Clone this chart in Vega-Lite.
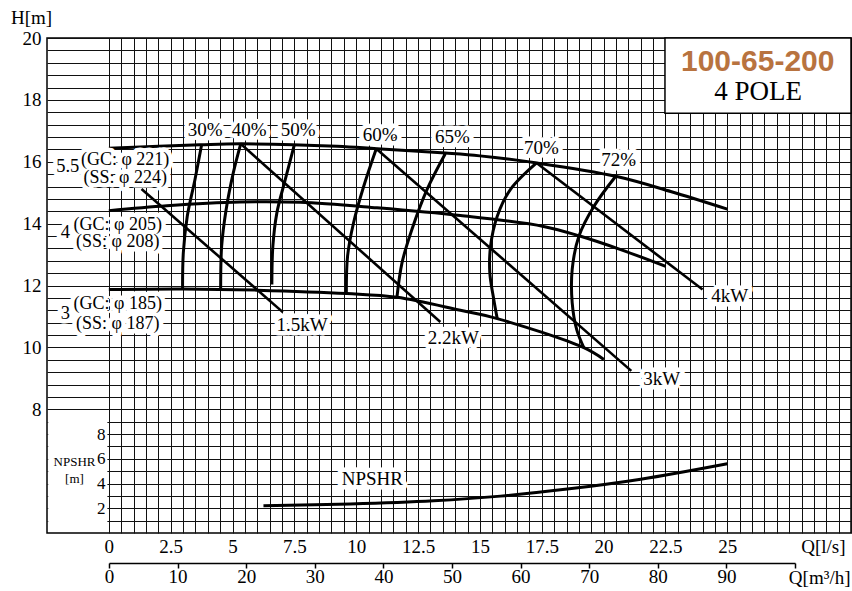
{
  "$schema": "https://vega.github.io/schema/vega-lite/v6.json",
  "width": 804,
  "height": 495,
  "autosize": {"type": "none"},
  "padding": {"left": 47, "top": 38, "right": 1, "bottom": 58},
  "background": "white",
  "config": {
    "view": {"stroke": "black", "strokeWidth": 1.5},
    "font": "Liberation Serif",
    "axis": {"labelFont": "Liberation Serif", "titleFont": "Liberation Serif", "labelColor": "black", "titleColor": "black", "titleFontWeight": "normal", "labelFlush": false, "labelOverlap": false, "labelBound": false}
  },
  "datasets": {
    "head": [
      {"s": "a", "q": 0, "h": 16.44}, {"s": "a", "q": 3.68, "h": 16.55}, {"s": "a", "q": 5.37, "h": 16.58}, {"s": "a", "q": 9.22, "h": 16.5}, {"s": "a", "q": 10.84, "h": 16.42}, {"s": "a", "q": 13.6, "h": 16.28}, {"s": "a", "q": 15.0, "h": 16.19}, {"s": "a", "q": 17.31, "h": 15.96}, {"s": "a", "q": 20.49, "h": 15.53}, {"s": "a", "q": 22.71, "h": 15.04}, {"s": "a", "q": 25.0, "h": 14.47},
      {"s": "b", "q": 0, "h": 14.42}, {"s": "b", "q": 2.34, "h": 14.58}, {"s": "b", "q": 5.3, "h": 14.7}, {"s": "b", "q": 7.73, "h": 14.69}, {"s": "b", "q": 10.84, "h": 14.51}, {"s": "b", "q": 14.21, "h": 14.26}, {"s": "b", "q": 17.57, "h": 13.91}, {"s": "b", "q": 19.07, "h": 13.59}, {"s": "b", "q": 20.69, "h": 13.16}, {"s": "b", "q": 22.51, "h": 12.62},
      {"s": "c", "q": 0, "h": 11.87}, {"s": "c", "q": 3.01, "h": 11.89}, {"s": "c", "q": 5.98, "h": 11.85}, {"s": "c", "q": 9.62, "h": 11.74}, {"s": "c", "q": 11.65, "h": 11.62}, {"s": "c", "q": 14.21, "h": 11.2}, {"s": "c", "q": 15.7, "h": 10.93}, {"s": "c", "q": 19.2, "h": 9.99}, {"s": "c", "q": 20.01, "h": 9.61}
    ],
    "eff": [
      {"s": "30", "q": 3.75, "h": 16.55}, {"s": "30", "q": 3.48, "h": 15.42}, {"s": "30", "q": 3.17, "h": 14.24}, {"s": "30", "q": 3.01, "h": 13.05}, {"s": "30", "q": 2.98, "h": 11.9},
      {"s": "40", "q": 5.33, "h": 16.58}, {"s": "40", "q": 5.03, "h": 15.64}, {"s": "40", "q": 4.74, "h": 14.45}, {"s": "40", "q": 4.56, "h": 13.27}, {"s": "40", "q": 4.52, "h": 11.9},
      {"s": "50", "q": 7.5, "h": 16.55}, {"s": "50", "q": 7.13, "h": 15.42}, {"s": "50", "q": 6.79, "h": 14.34}, {"s": "50", "q": 6.63, "h": 13.27}, {"s": "50", "q": 6.59, "h": 12.03},
      {"s": "60", "q": 10.81, "h": 16.42}, {"s": "60", "q": 10.3, "h": 15.2}, {"s": "60", "q": 9.89, "h": 14.02}, {"s": "60", "q": 9.65, "h": 12.95}, {"s": "60", "q": 9.6, "h": 11.76},
      {"s": "65", "q": 13.6, "h": 16.26}, {"s": "65", "q": 12.86, "h": 15.1}, {"s": "65", "q": 12.25, "h": 13.81}, {"s": "65", "q": 11.85, "h": 12.73}, {"s": "65", "q": 11.65, "h": 11.65},
      {"s": "70", "q": 17.29, "h": 15.96}, {"s": "70", "q": 16.23, "h": 15.1}, {"s": "70", "q": 15.7, "h": 14.24}, {"s": "70", "q": 15.43, "h": 13.27}, {"s": "70", "q": 15.4, "h": 12.41}, {"s": "70", "q": 15.56, "h": 11.55}, {"s": "70", "q": 15.7, "h": 10.93},
      {"s": "72", "q": 20.49, "h": 15.53}, {"s": "72", "q": 19.61, "h": 14.56}, {"s": "72", "q": 19.0, "h": 13.59}, {"s": "72", "q": 18.73, "h": 12.52}, {"s": "72", "q": 18.73, "h": 11.44}, {"s": "72", "q": 18.91, "h": 10.58}, {"s": "72", "q": 19.2, "h": 9.99}
    ],
    "power": [
      {"s": "1.5", "q": 1.32, "h": 15.12}, {"s": "1.5", "q": 7.03, "h": 11.14},
      {"s": "2.2", "q": 5.33, "h": 16.58}, {"s": "2.2", "q": 13.4, "h": 10.82},
      {"s": "3", "q": 10.81, "h": 16.42}, {"s": "3", "q": 21.12, "h": 9.24},
      {"s": "4", "q": 17.29, "h": 15.96}, {"s": "4", "q": 24.0, "h": 11.87}
    ],
    "npshr": [
      {"q": 6.25, "n": 2.2}, {"q": 9.76, "n": 2.34}, {"q": 13.13, "n": 2.6}, {"q": 15.83, "n": 2.98}, {"q": 18.53, "n": 3.55}, {"q": 21.5, "n": 4.35}, {"q": 25.0, "n": 5.6}
    ],
    "lbl": [
      {"t": "30%", "q": 3.89, "h": 17.03, "g": "pct"},
      {"t": "40%", "q": 5.67, "h": 17.03, "g": "pct"},
      {"t": "50%", "q": 7.65, "h": 17.03, "g": "pct"},
      {"t": "60%", "q": 10.97, "h": 16.87, "g": "pct"},
      {"t": "65%", "q": 13.89, "h": 16.79, "g": "pct"},
      {"t": "70%", "q": 17.49, "h": 16.45, "g": "pct"},
      {"t": "72%", "q": 20.61, "h": 16.06, "g": "pct"},
      {"t": "1.5kW", "q": 7.81, "h": 10.71, "g": "pct"},
      {"t": "2.2kW", "q": 13.93, "h": 10.29, "g": "pct"},
      {"t": "3kW", "q": 22.35, "h": 8.97, "g": "pct"},
      {"t": "4kW", "q": 25.1, "h": 11.65, "g": "pct"},
      {"t": "5.5", "q": -1.66, "h": 15.87, "g": "num"},
      {"t": "4", "q": -1.76, "h": 13.74, "g": "num"},
      {"t": "3", "q": -1.76, "h": 11.1, "g": "num"},
      {"t": "(GC: φ 221)", "q": 0.66, "h": 16.06, "g": "dia"},
      {"t": "(SS: φ 224)", "q": 0.66, "h": 15.48, "g": "dia"},
      {"t": "(GC: φ 205)", "q": 0.36, "h": 13.97, "g": "dia"},
      {"t": "(SS: φ 208)", "q": 0.36, "h": 13.42, "g": "dia"},
      {"t": "(GC: φ 185)", "q": 0.36, "h": 11.39, "g": "dia"},
      {"t": "(SS: φ 187)", "q": 0.36, "h": 10.74, "g": "dia"}
    ],
    "nlbl": [{"t": "NPSHR", "q": 10.65, "n": 4.36}]
  },
  "resolve": {"scale": {"x": "independent", "y": "independent"}, "axis": {"x": "independent", "y": "independent"}},
  "layer": [
    {
      "data": {"name": "head"},
      "mark": {"type": "line", "color": "black", "strokeWidth": 3, "interpolate": "catmull-rom"},
      "encoding": {
        "x": {"field": "q", "type": "quantitative", "scale": {"domain": [-2.5, 30], "nice": false, "zero": false},
          "axis": {"orient": "bottom", "values": [0,0.5,1,1.5,2,2.5,3,3.5,4,4.5,5,5.5,6,6.5,7,7.5,8,8.5,9,9.5,10,10.5,11,11.5,12,12.5,13,13.5,14,14.5,15,15.5,16,16.5,17,17.5,18,18.5,19,19.5,20,20.5,21,21.5,22,22.5,23,23.5,24,24.5,25,25.5,26,26.5,27,27.5,28,28.5,29,29.5,30],
            "grid": true, "gridColor": "#111111", "gridWidth": 1, "gridOpacity": 1, "domain": false, "ticks": false, "tickSize": 0,
            "format": "~g", "labelExpr": "datum.value % 2.5 == 0 && datum.value <= 25 ? datum.label : ''",
            "labelFontSize": 19, "labelPadding": 13, "labelBaseline": "middle",
            "title": "Q[l/s]", "titleAngle": 0, "titleX": 798, "titleY": 13, "titleAlign": "right", "titleBaseline": "middle", "titleFontSize": 19}},
        "y": {"field": "h", "type": "quantitative", "scale": {"domain": [4, 20], "nice": false, "zero": false},
          "axis": {"orient": "left", "values": [8,8.4,8.8,9.2,9.6,10,10.4,10.8,11.2,11.6,12,12.4,12.8,13.2,13.6,14,14.4,14.8,15.2,15.6,16,16.4,16.8,17.2,17.6,18,18.4,18.8,19.2,19.6,20],
            "grid": true, "gridColor": "#111111", "gridWidth": 1, "gridOpacity": 1, "domain": false, "ticks": false, "tickSize": 0,
            "format": "~g", "labelExpr": "datum.value % 2 == 0 ? datum.label : ''",
            "labelFontSize": 19, "labelPadding": 6,
            "title": "H[m]", "titleAngle": 0, "titleX": -16, "titleY": -21, "titleAlign": "center", "titleBaseline": "middle", "titleFontSize": 19}},
        "detail": {"field": "s"}
      }
    },
    {
      "data": {"values": [{}]},
      "mark": {"type": "rect", "fill": "white", "strokeWidth": 0},
      "encoding": {
        "x": {"datum": -2.45, "type": "quantitative", "scale": {"domain": [-2.5, 30], "nice": false, "zero": false}, "axis": null},
        "x2": {"datum": -0.06},
        "y": {"datum": 0.08, "type": "quantitative", "scale": {"domain": [0, 40], "nice": false, "zero": false}, "axis": null},
        "y2": {"datum": 9.93}
      }
    },
    {
      "data": {"name": "npshr"},
      "mark": {"type": "line", "color": "black", "strokeWidth": 3, "interpolate": "catmull-rom"},
      "encoding": {
        "x": {"field": "q", "type": "quantitative", "scale": {"domain": [-2.5, 30], "nice": false, "zero": false}, "axis": null},
        "y": {"field": "n", "type": "quantitative", "scale": {"domain": [0, 40], "nice": false, "zero": false},
          "axis": {"orient": "left", "offset": -62, "values": [1,2,3,4,5,6,7,8,9], "grid": true, "gridColor": "#111111", "gridWidth": 1, "gridOpacity": 1, "labels": false, "ticks": false, "domain": false, "title": null}}
      }
    },
    {
      "data": {"name": "eff"},
      "mark": {"type": "line", "color": "black", "strokeWidth": 3, "interpolate": "catmull-rom"},
      "encoding": {
        "x": {"field": "q", "type": "quantitative", "scale": {"domain": [-2.5, 30], "nice": false, "zero": false}, "axis": null},
        "y": {"field": "h", "type": "quantitative", "scale": {"domain": [4, 20], "nice": false, "zero": false}, "axis": null},
        "detail": {"field": "s"},
        "order": {"value": null}
      }
    },
    {
      "data": {"name": "power"},
      "mark": {"type": "line", "color": "black", "strokeWidth": 2.6},
      "encoding": {
        "x": {"field": "q", "type": "quantitative", "scale": {"domain": [-2.5, 30], "nice": false, "zero": false}, "axis": null},
        "y": {"field": "h", "type": "quantitative", "scale": {"domain": [4, 20], "nice": false, "zero": false}, "axis": null},
        "detail": {"field": "s"}
      }
    },
    {
      "data": {"values": [{}]},
      "mark": {"type": "rect", "fill": "white", "stroke": "black", "strokeWidth": 1.5},
      "encoding": {
        "x": {"datum": 22.48, "type": "quantitative", "scale": {"domain": [-2.5, 30], "nice": false, "zero": false}, "axis": null},
        "x2": {"datum": 30},
        "y": {"datum": 17.57, "type": "quantitative", "scale": {"domain": [4, 20], "nice": false, "zero": false}, "axis": null},
        "y2": {"datum": 20}
      }
    },
    {
      "data": {"name": "lbl"},
      "mark": {"type": "text", "fill": "white", "stroke": "white", "strokeWidth": 9, "strokeJoin": "round", "font": "Liberation Serif", "align": "center", "baseline": "middle"},
      "encoding": {
        "x": {"field": "q", "type": "quantitative", "scale": {"domain": [-2.5, 30], "nice": false, "zero": false}, "axis": null},
        "y": {"field": "h", "type": "quantitative", "scale": {"domain": [4, 20], "nice": false, "zero": false}, "axis": null},
        "text": {"field": "t"},
        "size": {"field": "g", "type": "nominal", "scale": {"domain": ["pct", "num", "dia"], "range": [19, 18, 16.5]}, "legend": null}
      }
    },
    {
      "data": {"name": "lbl"},
      "mark": {"type": "text", "fill": "black", "font": "Liberation Serif", "align": "center", "baseline": "middle"},
      "encoding": {
        "x": {"field": "q", "type": "quantitative", "scale": {"domain": [-2.5, 30], "nice": false, "zero": false}, "axis": null},
        "y": {"field": "h", "type": "quantitative", "scale": {"domain": [4, 20], "nice": false, "zero": false}, "axis": null},
        "text": {"field": "t"},
        "size": {"field": "g", "type": "nominal", "scale": {"domain": ["pct", "num", "dia"], "range": [19, 18, 16.5]}, "legend": null}
      }
    },
    {
      "data": {"name": "nlbl"},
      "mark": {"type": "text", "fill": "white", "stroke": "white", "strokeWidth": 9, "strokeJoin": "round", "font": "Liberation Serif", "fontSize": 19, "align": "center", "baseline": "middle"},
      "encoding": {
        "x": {"field": "q", "type": "quantitative", "scale": {"domain": [-2.5, 30], "nice": false, "zero": false}, "axis": null},
        "y": {"field": "n", "type": "quantitative", "scale": {"domain": [0, 40], "nice": false, "zero": false},
          "axis": {"orient": "left", "offset": -62, "values": [2, 4, 6, 8], "grid": false, "domain": false, "ticks": false, "tickSize": 0, "labelPadding": 4, "labelFontSize": 17, "zindex": 1,
            "title": ["NPSHR", "[m]"], "titleAngle": 0, "titleX": -35, "titleY": 427, "titleAlign": "center", "titleBaseline": "alphabetic", "titleFontSize": 13, "titleLineHeight": 17}},
        "text": {"field": "t"}
      }
    },
    {
      "data": {"name": "nlbl"},
      "mark": {"type": "text", "fill": "black", "font": "Liberation Serif", "fontSize": 19, "align": "center", "baseline": "middle"},
      "encoding": {
        "x": {"field": "q", "type": "quantitative", "scale": {"domain": [-2.5, 30], "nice": false, "zero": false}, "axis": null},
        "y": {"field": "n", "type": "quantitative", "scale": {"domain": [0, 40], "nice": false, "zero": false}, "axis": null},
        "text": {"field": "t"}
      }
    },
    {
      "data": {"values": [{"t": "100-65-200", "q": 26.23, "h": 19.23}]},
      "mark": {"type": "text", "fill": "#b8733f", "font": "Liberation Sans", "fontWeight": "bold", "fontSize": 30, "align": "center", "baseline": "middle"},
      "encoding": {
        "x": {"field": "q", "type": "quantitative", "scale": {"domain": [-2.5, 30], "nice": false, "zero": false}, "axis": null},
        "y": {"field": "h", "type": "quantitative", "scale": {"domain": [4, 20], "nice": false, "zero": false}, "axis": null},
        "text": {"field": "t"}
      }
    },
    {
      "data": {"values": [{"t": "4 POLE", "q": 26.25, "h": 18.26}]},
      "mark": {"type": "text", "fill": "black", "font": "Liberation Sans Narrow", "fontSize": 27, "align": "center", "baseline": "middle"},
      "encoding": {
        "x": {"field": "q", "type": "quantitative", "scale": {"domain": [-2.5, 30], "nice": false, "zero": false}, "axis": null},
        "y": {"field": "h", "type": "quantitative", "scale": {"domain": [4, 20], "nice": false, "zero": false}, "axis": null},
        "text": {"field": "t"}
      }
    },
    {
      "data": {"values": [{}]},
      "mark": {"type": "rule", "opacity": 0},
      "encoding": {
        "x": {"datum": 0, "type": "quantitative", "scale": {"domain": [0, 100], "range": [62, 748], "nice": false, "zero": false},
          "axis": {"orient": "bottom", "offset": 30, "values": [0,10,20,30,40,50,60,70,80,90,100], "grid": false,
            "domain": true, "domainColor": "black", "domainWidth": 1.5, "ticks": true, "tickColor": "black", "tickSize": 5, "tickWidth": 1.5,
            "labelExpr": "datum.value < 100 ? datum.label : ''", "labelFontSize": 19, "labelPadding": 8, "labelBaseline": "middle",
            "title": "Q[m³/h]", "titleAngle": 0, "titleX": 803, "titleY": 14, "titleAlign": "right", "titleBaseline": "middle", "titleFontSize": 19}}
      }
    }
  ]
}
